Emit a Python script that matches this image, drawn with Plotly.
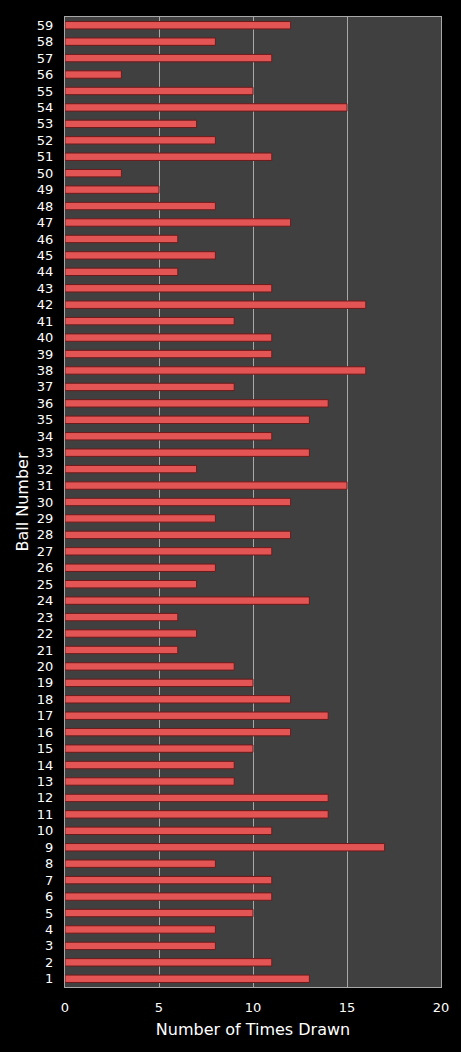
import plotly.graph_objects as go

balls = list(range(1, 60))
times_drawn = [13, 11, 8, 8, 10, 11, 11, 8, 17, 11,
               14, 14, 9, 9, 10, 12, 14, 12, 10, 9,
               6, 7, 6, 13, 7, 8, 11, 12, 8, 12,
               15, 7, 13, 11, 13, 14, 9, 16, 11, 11,
               9, 16, 11, 6, 8, 6, 12, 8, 5, 3,
               11, 8, 7, 15, 10, 3, 11, 8, 12]

fig = go.Figure(go.Bar(
    x=times_drawn,
    y=balls,
    orientation='h',
    width=0.45,
    marker=dict(color='#e35454', line=dict(color='#6e1a1a', width=1)),
))

fig.update_layout(
    width=461, height=1052,
    autosize=False,
    margin=dict(l=65, r=20, t=17, b=65),
    paper_bgcolor='black',
    plot_bgcolor='#404040',
    showlegend=False,
    font=dict(family='DejaVu Sans', color='white', size=13),
    xaxis=dict(
        range=[0, 20],
        tickvals=[0, 5, 10, 15, 20],
        showgrid=True, gridcolor='#a8a8a8', gridwidth=1,
        zeroline=False,
        showline=True, linecolor='#a8a8a8', mirror=True,
        ticks='outside', ticklen=8, tickcolor='rgba(0,0,0,0)',
        title=dict(text='Number of Times Drawn', font=dict(size=16), standoff=10),
        tickfont=dict(size=13),
    ),
    yaxis=dict(
        range=[0.5, 59.5],
        tickmode='array',
        tickvals=balls,
        ticktext=[str(b) for b in balls],
        showgrid=False,
        zeroline=False,
        showline=True, linecolor='#a8a8a8', mirror=True,
        ticks='outside', ticklen=8, tickcolor='rgba(0,0,0,0)',
        title=dict(text='Ball Number', font=dict(size=16), standoff=4),
        tickfont=dict(size=13),
    ),
)

fig.write_html("out.html", config={'displayModeBar': False},
               post_script="document.body.style.margin='0';document.body.style.background='black';")
